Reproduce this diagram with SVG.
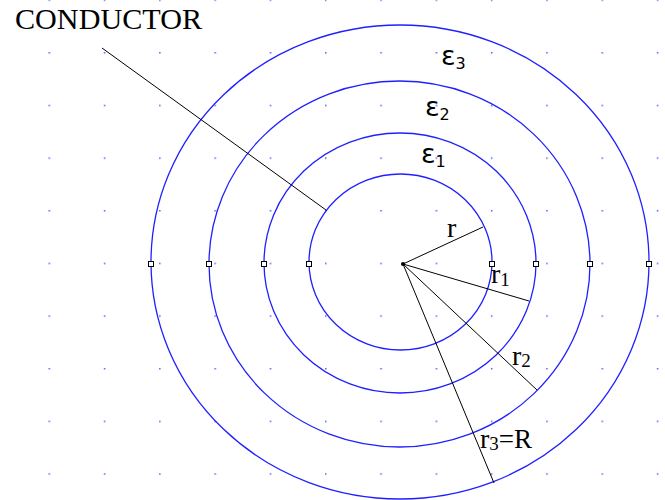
<svg xmlns="http://www.w3.org/2000/svg" width="665" height="500" viewBox="0 0 665 500">
<style>
.c{fill:none;stroke:#2020ff;stroke-width:1.3}
.l{stroke:#000;stroke-width:1;fill:none}
.m{fill:#fff;stroke:#000;stroke-width:1}
.s{font-family:"Liberation Serif","Times New Roman",serif;fill:#000}
.e{font-family:"DejaVu Sans","Liberation Sans",sans-serif;fill:#000}
</style>
<defs>
<pattern id="grid" x="48.5" y="-0.6" width="55.3" height="52.65" patternUnits="userSpaceOnUse">
<rect width="1.5" height="1.5" fill="#5a5aff"/>
</pattern>
</defs>
<rect width="665" height="500" fill="#fff"/>
<rect width="665" height="500" fill="url(#grid)"/>
<g id="circles">
<ellipse id="conductor" class="c" cx="400.5" cy="262" rx="91.5" ry="88"/>
<ellipse id="layer1" class="c" cx="400" cy="263" rx="136" ry="130"/>
<ellipse id="layer2" class="c" cx="399.5" cy="264" rx="190.5" ry="183"/>
<ellipse id="layer3" class="c" cx="400" cy="262" rx="249" ry="237"/>
</g>
<g id="connectors">
<line class="l" x1="102" y1="48" x2="326" y2="210"/>
<line class="l" x1="403" y1="264" x2="483" y2="227"/>
<line class="l" x1="403" y1="264" x2="529" y2="301"/>
<line class="l" x1="403" y1="264" x2="537" y2="390"/>
<line class="l" x1="403" y1="264" x2="494" y2="483"/>
<circle cx="403" cy="264" r="2" fill="#000"/>
</g>
<g id="markers">
<rect class="m" x="148.5" y="261.5" width="5" height="5"/>
<rect class="m" x="206.5" y="261.5" width="5" height="5"/>
<rect class="m" x="261.5" y="261.5" width="5" height="5"/>
<rect class="m" x="306.5" y="261.5" width="5" height="5"/>
<rect class="m" x="489.5" y="261.5" width="5" height="5"/>
<rect class="m" x="533.5" y="261.5" width="5" height="5"/>
<rect class="m" x="587.5" y="261.5" width="5" height="5"/>
<rect class="m" x="646.5" y="261.5" width="5" height="5"/>
</g>
<g id="labels">
<text class="s" x="15" y="29" font-size="29" textLength="187" lengthAdjust="spacingAndGlyphs">CONDUCTOR</text>
<text class="e" x="441" y="65" font-size="27">ε<tspan font-size="16" dy="4">3</tspan></text>
<text class="e" x="425" y="116" font-size="27">ε<tspan font-size="16" dy="4">2</tspan></text>
<text class="e" x="421" y="163" font-size="27">ε<tspan font-size="16" dy="4">1</tspan></text>
<text class="s" x="447" y="237" font-size="28">r</text>
<text class="s" x="491" y="283" font-size="28">r<tspan font-size="19" dy="3">1</tspan></text>
<text class="s" x="512" y="365" font-size="28">r<tspan font-size="19" dy="2">2</tspan></text>
<text class="s" x="480" y="448" font-size="28">r<tspan font-size="19" dy="2">3</tspan><tspan dy="-2" font-size="27">=R</tspan></text>
</g>
</svg>
